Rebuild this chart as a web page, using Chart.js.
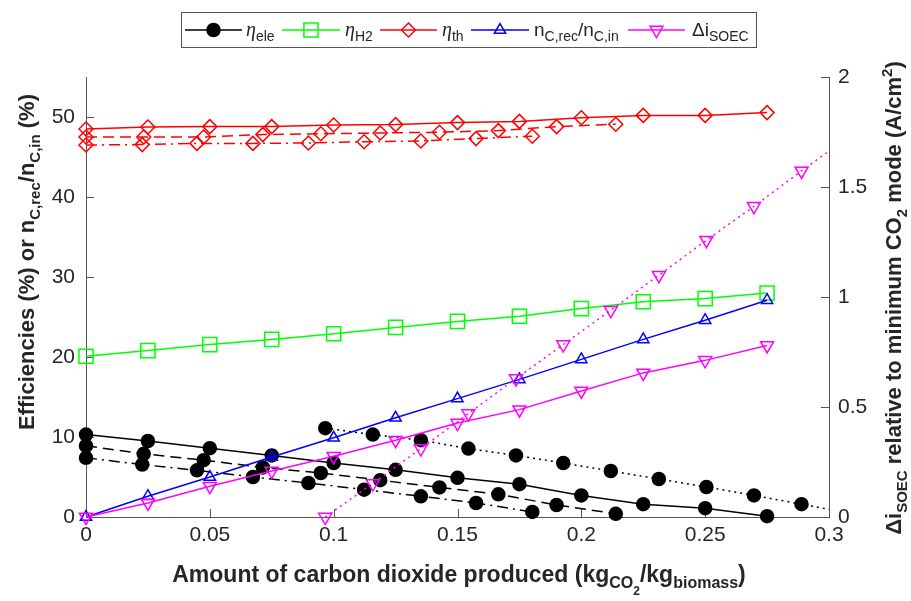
<!DOCTYPE html>
<html>
<head>
<meta charset="utf-8">
<title>Efficiencies vs CO2 produced</title>
<script src="https://cdn.jsdelivr.net/npm/chart.js@4.4.1/dist/chart.umd.min.js"></script>
<style>
  html, body { margin: 0; padding: 0; background: #fff; }
  canvas { display: block; }
</style>
</head>
<body>
<canvas id="chart" width="911" height="601"></canvas>
<script>
// x of each operating point (kg CO2 / kg biomass), one array per case
const xSolid = [0, 0.025, 0.05, 0.075, 0.1, 0.125, 0.15, 0.175, 0.2, 0.225, 0.25, 0.275];
const xDashed = [0, 0.0233, 0.0475, 0.0714, 0.0948, 0.1188, 0.1427, 0.1665, 0.19, 0.2139];
const xDashDot = [0, 0.0227, 0.0448, 0.0674, 0.0898, 0.1123, 0.1352, 0.1575, 0.1802];
const xDotted = [0.0966, 0.1158, 0.1352, 0.1544, 0.1736, 0.1927, 0.2119, 0.2313, 0.2505, 0.2697, 0.2889, 0.3081];

// left axis, %
const etaEleSolid = [10.3, 9.5, 8.6, 7.7, 6.75, 5.9, 4.9, 4.1, 2.7, 1.6, 1.1, 0.1];
const etaEleDashed = [8.9, 7.9, 7.1, 6.2, 5.5, 4.6, 3.7, 2.84, 1.5, 0.4];
const etaEleDashDot = [7.4, 6.55, 5.84, 5.0, 4.25, 3.42, 2.59, 1.75, 0.63];
const etaEleDotted = [11.1, 10.3, 9.6, 8.55, 7.7, 6.75, 5.75, 4.75, 3.75, 2.7, 1.6, 0.5];
const etaH2 = [20.1, 20.8, 21.55, 22.2, 22.9, 23.7, 24.45, 25.1, 26.05, 26.9, 27.3, 28.0];
const etaThSolid = [48.5, 48.75, 48.8, 48.8, 49.0, 49.05, 49.3, 49.45, 49.9, 50.2, 50.2, 50.55];
const etaThDashed = [47.5, 47.5, 47.5, 47.8, 47.9, 48.0, 48.1, 48.3, 48.8, 49.1];
const etaThDashDot = [46.5, 46.55, 46.7, 46.7, 46.75, 46.9, 47.0, 47.3, 47.6];
const carbonRatio = [0, 2.6, 5.0, 7.5, 9.9, 12.4, 14.8, 17.2, 19.7, 22.2, 24.6, 27.1];

// right axis, A/cm2
const dISoecSolid = [0, 0.064, 0.14, 0.209, 0.276, 0.349, 0.427, 0.488, 0.573, 0.655, 0.712, 0.78];
const dISoecDotted = [0, 0.152, 0.311, 0.47, 0.629, 0.784, 0.94, 1.099, 1.258, 1.412, 1.573, 1.73];

const xTicks = [0, 0.05, 0.1, 0.15, 0.2, 0.25, 0.3];
const yLeftTicks = [0, 10, 20, 30, 40, 50];
const yRightTicks = [0, 0.5, 1, 1.5, 2];

const FONT = "'Liberation Sans', Arial, Helvetica, sans-serif";
const AXIS_COLOR = '#555';
const TEXT_COLOR = '#262626';

const mCircle = { style: 'circle', r: 6.5, fill: '#000' };
const mSquare = { style: 'rect', r: 10, fill: 'rgba(0,0,0,0)' };
const mDiamond = { style: 'rectRot', r: 7, fill: 'rgba(0,0,0,0)' };
const mTriUp = { style: 'triangle', r: 6.5, fill: 'rgba(0,0,0,0)' };
const mTriDown = { style: 'triangle', r: 7.5, rot: 180, fill: 'rgba(0,0,0,0)' };

const DASH = [11, 6];
const DASHDOT = [11, 5, 2, 5];
const DOT = [2, 4];

function pts(xs, ys) {
    return xs.map((x, i) => ({ x: x, y: ys[i] }));
}

function series(xs, ys, color, m, dash, axis, clip) {
    return {
        data: pts(xs, ys),
        yAxisID: axis,
        showLine: true,
        borderColor: color,
        borderWidth: 1.5,
        borderDash: dash,
        pointStyle: m.style,
        pointRadius: m.r,
        pointHoverRadius: m.r,
        pointRotation: m.rot || 0,
        pointBackgroundColor: m.fill,
        pointBorderColor: color,
        pointBorderWidth: 1.5,
        clip: clip || false
    };
}

// dotted cases run past the right edge, so clip those on the right only
const clipRight = { left: false, top: false, bottom: false, right: 0 };

// first dataset is drawn on top
const datasets = [
    series(xDotted, dISoecDotted, '#ff00ff', mTriDown, DOT, 'y2', clipRight),
    series(xSolid, dISoecSolid, '#ff00ff', mTriDown, [], 'y2'),
    series(xSolid, carbonRatio, '#0000ff', mTriUp, [], 'y'),
    series(xSolid, etaH2, '#00ff00', mSquare, [], 'y'),
    series(xSolid, etaThSolid, '#ff0000', mDiamond, [], 'y'),
    series(xDashed, etaThDashed, '#ff0000', mDiamond, DASH, 'y'),
    series(xDashDot, etaThDashDot, '#ff0000', mDiamond, DASHDOT, 'y'),
    series(xDotted, etaEleDotted, '#000000', mCircle, DOT, 'y', clipRight),
    series(xSolid, etaEleSolid, '#000000', mCircle, [], 'y'),
    series(xDashed, etaEleDashed, '#000000', mCircle, DASH, 'y'),
    series(xDashDot, etaEleDashDot, '#000000', mCircle, DASHDOT, 'y')
];

// text with sub/superscripts: [text, size, dy, style, family]
function drawRich(ctx, runs, x, y, rot, align, weight) {
    ctx.save();
    ctx.translate(x, y);
    ctx.rotate(rot);
    ctx.textBaseline = 'alphabetic';
    ctx.textAlign = 'left';
    ctx.fillStyle = TEXT_COLOR;
    const fontOf = r => (r[3] || weight) + ' ' + r[1] + 'px ' + (r[4] || FONT);
    let total = 0;
    const widths = runs.map(r => {
        ctx.font = fontOf(r);
        const w = ctx.measureText(r[0]).width;
        total += w;
        return w;
    });
    let cx = align === 'center' ? -total / 2 : 0;
    runs.forEach((r, i) => {
        ctx.font = fontOf(r);
        ctx.fillText(r[0], cx, r[2]);
        cx += widths[i];
    });
    ctx.restore();
}

const xTitle = [
    ['Amount of carbon dioxide produced (kg', 23, 0],
    ['CO', 16, 6],
    ['2', 12, 13],
    ['/kg', 23, 0],
    ['biomass', 16, 6],
    [')', 23, 0]
];
const yTitle = [
    ['Efficiencies (%) or n', 22, 0],
    ['C,rec', 15, 6],
    ['/n', 22, 0],
    ['C,in', 15, 6],
    [' (%)', 22, 0]
];
const y2Title = [
    ['\u0394i', 22, 0],
    ['SOEC', 15, 6],
    [' relative to minimum CO', 22, 0],
    ['2', 15, 6],
    [' mode (A/cm', 22, 0],
    ['2', 15, -9],
    [')', 22, 0]
];

const ETA = "'Liberation Serif', 'DejaVu Serif', serif";
const legendItems = [
    { color: '#000000', m: mCircle, x0: 185, x1: 242, tx: 246,
      runs: [['\u03b7', 20, 0, 'italic', ETA], ['ele', 14, 5]] },
    { color: '#00ff00', m: mSquare, x0: 282, x1: 340, tx: 345,
      runs: [['\u03b7', 20, 0, 'italic', ETA], ['H2', 14, 5]] },
    { color: '#ff0000', m: mDiamond, x0: 380, x1: 437, tx: 442,
      runs: [['\u03b7', 20, 0, 'italic', ETA], ['th', 14, 5]] },
    { color: '#0000ff', m: mTriUp, x0: 471, x1: 529, tx: 534,
      runs: [['n', 19, 0], ['C,rec', 14, 5], ['/n', 19, 0], ['C,in', 14, 5]] },
    { color: '#ff00ff', m: mTriDown, x0: 628, x1: 685, tx: 692,
      runs: [['\u0394i', 19, 0], ['SOEC', 14, 5]] }
];

const axisDecor = {
    id: 'axisDecor',
    beforeDatasetsDraw(chart) {
        const ctx = chart.ctx, a = chart.chartArea, s = chart.scales;
        ctx.save();
        ctx.strokeStyle = AXIS_COLOR;
        ctx.lineWidth = 1;
        ctx.beginPath();
        xTicks.forEach(v => {
            const px = Math.round(s.x.getPixelForValue(v)) + 0.5;
            ctx.moveTo(px, a.bottom);
            ctx.lineTo(px, a.bottom - 8);
        });
        yLeftTicks.forEach(v => {
            const py = Math.round(s.y.getPixelForValue(v)) + 0.5;
            ctx.moveTo(a.left, py);
            ctx.lineTo(a.left + 8, py);
        });
        yRightTicks.forEach(v => {
            const py = Math.round(s.y2.getPixelForValue(v)) + 0.5;
            ctx.moveTo(a.right, py);
            ctx.lineTo(a.right - 8, py);
        });
        ctx.stroke();
        ctx.restore();
    },
    afterDraw(chart) {
        const ctx = chart.ctx;
        // axis titles
        drawRich(ctx, xTitle, 459, 582, 0, 'center', 'bold');
        drawRich(ctx, yTitle, 34, 262, -Math.PI / 2, 'center', 'bold');
        drawRich(ctx, y2Title, 901, 298, -Math.PI / 2, 'center', 'bold');

        // legend box
        ctx.save();
        ctx.fillStyle = '#fff';
        ctx.strokeStyle = AXIS_COLOR;
        ctx.lineWidth = 1;
        ctx.fillRect(181.5, 12.5, 575, 35);
        ctx.strokeRect(181.5, 12.5, 575, 35);
        legendItems.forEach(it => {
            const cy = 30;
            ctx.strokeStyle = it.color;
            ctx.lineWidth = 1.5;
            ctx.setLineDash([]);
            ctx.beginPath();
            ctx.moveTo(it.x0, cy);
            ctx.lineTo(it.x1, cy);
            ctx.stroke();
            ctx.fillStyle = it.m.fill;
            Chart.helpers.drawPoint(ctx, {
                pointStyle: it.m.style,
                radius: it.m.r,
                rotation: it.m.rot || 0,
                borderWidth: 1.5
            }, (it.x0 + it.x1) / 2, cy);
            drawRich(ctx, it.runs, it.tx, 36, 0, 'left', 'normal');
        });
        ctx.restore();
    }
};

function fixedTicks(values) {
    return scale => { scale.ticks = values.map(v => ({ value: v })); };
}

const tickFont = { family: FONT, size: 21 };

new Chart(document.getElementById('chart'), {
    type: 'scatter',
    data: { datasets: datasets },
    options: {
        responsive: false,
        animation: false,
        devicePixelRatio: 1,
        layout: { padding: { top: 77, left: 0, right: 0, bottom: 0 } },
        plugins: {
            legend: { display: false },
            tooltip: { enabled: false }
        },
        elements: { line: { tension: 0 } },
        scales: {
            x: {
                type: 'linear',
                min: 0,
                max: 0.3,
                afterBuildTicks: fixedTicks(xTicks),
                afterFit: s => { s.height = 84; },
                grid: { display: false, drawTicks: false },
                border: { display: true, color: AXIS_COLOR, width: 1 },
                ticks: { font: tickFont, color: TEXT_COLOR, padding: 6, maxRotation: 0, autoSkip: false,
                         callback: v => String(v) }
            },
            y: {
                type: 'linear',
                position: 'left',
                min: 0,
                max: 55,
                afterBuildTicks: fixedTicks(yLeftTicks),
                afterFit: s => { s.width = 86; },
                grid: { display: false, drawTicks: false },
                border: { display: true, color: AXIS_COLOR, width: 1 },
                ticks: { font: tickFont, color: TEXT_COLOR, padding: 11, callback: v => String(v) }
            },
            y2: {
                type: 'linear',
                position: 'right',
                min: 0,
                max: 2,
                afterBuildTicks: fixedTicks(yRightTicks),
                afterFit: s => { s.width = 82; },
                grid: { display: false, drawTicks: false },
                border: { display: true, color: AXIS_COLOR, width: 1 },
                ticks: { font: tickFont, color: TEXT_COLOR, padding: 9, callback: v => String(v) }
            }
        }
    },
    plugins: [axisDecor]
});
</script>
</body>
</html>
